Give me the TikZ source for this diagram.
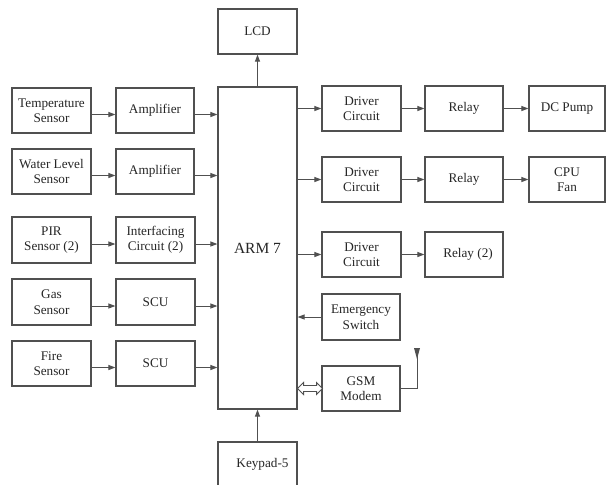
\documentclass[tikz,border=0pt]{standalone}
\usepackage{fontspec}
\setmainfont{Liberation Serif}
\usetikzlibrary{arrows.meta}
\definecolor{linegray}{HTML}{505050}
\definecolor{textgray}{HTML}{262626}
\begin{document}
\begin{tikzpicture}[x=1pt,y=-1pt,
  blk/.style={draw=linegray, line width=1.2pt, minimum width=79pt, minimum height=45pt,
    inner sep=0pt, align=center, text=textgray, font=\fontsize{13.2}{15.5}\selectfont},
  conn/.style={draw=linegray, line width=1pt, -{Triangle[length=7pt,width=5pt]}},
  wire/.style={draw=linegray, line width=1pt}]
\useasboundingbox (0,0) rectangle (606,485);
\clip (0,0) rectangle (606,485);
\fill[white] (0,0) rectangle (606,485);
% left column
\node[blk] (temp)  at (51.5,110.5) {Temperature\\Sensor};
\node[blk, minimum width=78pt] (amp1) at (155,110.5) {Amplifier};
\node[blk] (water) at (51.5,171.5) {Water Level\\Sensor};
\node[blk, minimum width=78pt] (amp2) at (155,171.5) {Amplifier};
\node[blk, minimum height=46pt] (pir) at (51.5,240) {PIR\\Sensor (2)};
\node[blk, minimum height=46pt] (intf) at (155.5,240) {Interfacing\\Circuit (2)};
\node[blk, minimum height=46pt] (gas) at (51.5,302) {Gas\\Sensor};
\node[blk, minimum height=46pt] (scu1) at (155.5,302) {SCU};
\node[blk] (fire) at (51.5,363.5) {Fire\\Sensor};
\node[blk] (scu2) at (155.5,363.5) {SCU};
% centre
\node[blk, minimum height=322pt, font=\fontsize{15.5}{18}\selectfont] (arm) at (257.5,248) {ARM 7};
\node[blk] (lcd) at (257.5,31.5) {LCD};
\node[blk] (key) at (257.5,464.5) {\hspace*{10pt}Keypad-5};
% right
\node[blk] (drv1) at (361.5,108.5) {Driver\\Circuit};
\node[blk, minimum width=78pt] (rel1) at (464,108.5) {Relay};
\node[blk, minimum width=76pt] (dcp) at (567,108.5) {DC Pump};
\node[blk] (drv2) at (361.5,179.5) {Driver\\Circuit};
\node[blk, minimum width=78pt] (rel2) at (464,179.5) {Relay};
\node[blk, minimum width=76pt] (cpu) at (567,179.5) {CPU\\Fan};
\node[blk] (drv3) at (361.5,254.5) {Driver\\Circuit};
\node[blk, minimum width=78pt] (rel3) at (464,254.5) {\hspace*{8pt}Relay (2)};
\node[blk, minimum width=78pt, minimum height=46pt] (emg) at (361,317) {Emergency\\Switch};
\node[blk, minimum width=78pt] (gsm) at (361,388.5) {GSM\\Modem};
\coordinate (ant) at (417,348);
\coordinate (gsmL) at (gsm.west -| arm.east);
% left connectors
\foreach \a/\b in {temp/amp1, water/amp2, pir/intf, gas/scu1, fire/scu2}{
  \draw[conn] ([yshift=-4pt]\a.east) -- ([yshift=-4pt]\b.west);
  \draw[conn] ([yshift=-4pt]\b.east) -- ([yshift=-4pt]\b.east -| arm.west);
}
% top / bottom
\draw[conn] (arm.north) -- (lcd.south);
\draw[conn] (key.north) -- (arm.south);
% right connectors
\foreach \a/\b/\c in {drv1/rel1/dcp, drv2/rel2/cpu}{
  \draw[conn] (arm.east |- \a.west) -- (\a.west);
  \draw[conn] (\a.east) -- (\b.west);
  \draw[conn] (\b.east) -- (\c.west);
}
\draw[conn] (arm.east |- drv3.west) -- (drv3.west);
\draw[conn] (drv3.east) -- (rel3.west);
\draw[conn] (emg.west) -- (emg.west -| arm.east);
% GSM link (hollow double arrow)
\draw[linegray, line width=0.9pt, line join=miter, fill=white]
  (gsmL) -- ++(6,-6) -- ++(0,3) -- ++(13,0) -- ++(0,-3) -- ++(6,6)
  -- ++(-6,6) -- ++(0,-3) -- ++(-13,0) -- ++(0,3) -- cycle;
% antenna
\draw[wire] (gsm.east) -| (ant);
\fill[linegray] (ant) ++(-3,0) -- ++(6,0) -- ++(-3,11) -- cycle;
\end{tikzpicture}
\end{document}
